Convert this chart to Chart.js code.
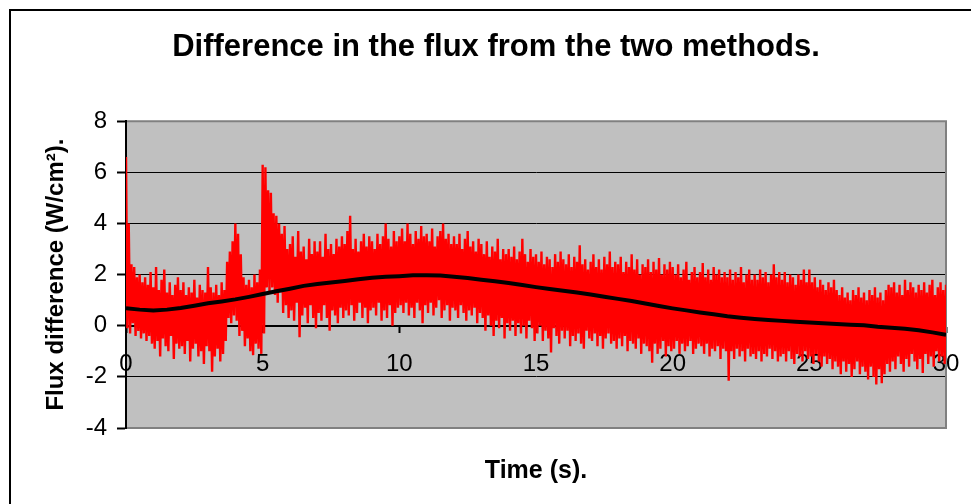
<!DOCTYPE html>
<html>
<head>
<meta charset="utf-8">
<script src="https://cdn.jsdelivr.net/npm/chart.js@4.4.1/dist/chart.umd.min.js"></script>
<style>
  html, body { margin: 0; padding: 0; background: #fff; }
  #wrap { width: 971px; height: 504px; }
</style>
</head>
<body>
<div id="wrap"><canvas id="fluxChart" width="971" height="504"></canvas></div>
<script>
// Flux difference, one value every 0.05 s (20 per second)
const flux = [
  6.6, -0.1, 4.0, -0.3, 2.4, 0.1, 2.3, -0.4, 1.9, -0.2, 2.0, -0.5, 1.7, -0.3, 1.9, -0.6, 1.6, -0.4, 2.1, -0.7,
  1.5, -0.9, 2.3, -0.6, 1.4, -1.2, 1.8, -0.5, 2.2, -0.8, 1.3, -1.0, 1.7, -0.4, 1.2, -1.3, 1.6, -0.7, 1.9, -0.9,
  1.4, -0.8, 1.7, -1.1, 1.2, -0.6, 1.5, -1.4, 1.3, -0.9, 1.8, -0.7, 1.1, -1.2, 1.6, -1.0, 1.4, -1.5, 1.3, -0.8,
  2.3, -1.0, 1.5, -1.8, 1.3, -1.2, 1.6, -0.9, 1.2, -1.4, 1.7, -1.1, 1.4, -0.6, 2.5, 0.3, 2.9, 0.1, 3.3, 0.4,
  4.0, 0.2, 3.6, -0.4, 2.8, -0.2, 1.9, -0.8, 1.6, -0.5, 1.8, -1.0, 1.5, -1.15, 2.0, -0.7, 1.7, -0.9, 2.2, -1.1,
  6.3, -0.3, 6.2, 1.5, 5.3, 1.3, 5.2, 1.5, 4.4, 1.2, 4.3, 0.9, 4.0, 1.3, 3.6, 0.5, 3.9, 0.8, 3.0, 0.3,
  3.2, 0.6, 3.5, 0.2, 2.7, 0.9, 3.7, -0.45, 2.9, 0.4, 3.1, 0.7, 2.6, 0.1, 3.4, 0.8, 2.8, 0.3, 3.3, -0.1,
  2.9, 0.5, 3.3, 0.2, 2.7, 0.8, 3.6, 0.3, 3.0, -0.2, 3.2, 0.6, 2.8, 0.4, 3.4, 0.1, 3.1, 0.7, 3.5, 0.3,
  3.2, 0.6, 3.7, 0.4, 4.3, 0.8, 3.0, 0.2, 3.4, 0.5, 2.9, 0.9, 3.3, 0.3, 3.6, 0.7, 3.1, 0.1, 3.5, 0.6,
  3.3, 0.7, 3.0, 0.4, 3.6, 0.9, 3.2, 0.2, 3.5, 0.6, 4.0, 0.3, 3.4, 0.8, 3.1, 0.0, 3.7, 0.5, 3.3, 0.7,
  3.5, 0.8, 3.8, 0.5, 3.3, 0.9, 4.0, 0.4, 3.6, 0.7, 3.2, 0.3, 3.7, 0.9, 3.4, 0.6, 3.9, 0.1, 3.5, 0.8,
  3.6, 0.5, 3.3, 0.9, 3.8, 0.4, 3.1, 0.7, 3.5, 1.0, 3.7, 0.3, 4.0, 0.6, 3.4, 0.8, 3.6, 0.2, 3.2, 0.7,
  3.5, 0.6, 3.2, 0.3, 3.6, 0.8, 3.0, 0.5, 3.4, 0.2, 3.7, 0.6, 3.1, 0.4, 3.3, 0.7, 2.9, 0.1, 3.4, 0.5,
  3.2, 0.3, 2.8, -0.2, 3.3, 0.4, 2.7, 0.0, 3.1, -0.4, 2.9, 0.2, 3.4, -0.1, 2.6, 0.3, 3.0, -0.5, 2.8, 0.1,
  3.0, -0.2, 2.7, 0.2, 3.1, -0.4, 2.6, 0.1, 2.9, -0.3, 3.4, 0.0, 2.8, -0.5, 2.5, 0.2, 3.0, -0.1, 2.7, -0.6,
  2.8, -0.3, 2.5, 0.0, 2.9, -0.6, 2.4, -0.2, 2.7, -0.5, 2.6, -1.05, 2.3, -0.1, 2.8, -0.4, 2.5, -0.7, 2.9, -0.2,
  2.6, -0.5, 2.4, -0.2, 2.8, -0.8, 2.3, -0.4, 2.7, -0.6, 2.5, -0.3, 3.15, -0.7, 2.4, -0.9, 2.6, -0.2, 2.2, -0.5,
  2.5, -0.6, 2.8, -0.3, 2.3, -0.8, 2.6, -0.4, 2.2, -0.9, 2.7, -0.5, 2.4, -0.3, 2.9, -0.7, 2.3, -0.6, 2.5, -0.9,
  2.4, -0.5, 2.7, -0.8, 2.1, -0.4, 2.5, -1.0, 2.3, -0.6, 2.8, -0.7, 2.2, -0.9, 2.6, -0.5, 2.0, -1.1, 2.4, -0.7,
  2.3, -0.8, 2.6, -1.0, 2.1, -1.45, 2.5, -0.7, 2.2, -1.1, 2.65, -0.9, 2.0, -0.6, 2.4, -1.2, 2.2, -0.8, 2.5, -1.0,
  2.3, -0.9, 2.0, -0.6, 2.4, -1.1, 1.9, -0.7, 2.2, -1.0, 2.5, -0.8, 1.8, -0.6, 2.1, -1.1, 2.3, -0.9, 1.9, -0.7,
  2.1, -0.8, 2.45, -1.1, 1.9, -0.7, 2.2, -1.2, 1.8, -0.9, 2.3, -1.0, 2.0, -0.8, 2.2, -1.3, 1.9, -0.9, 2.1, -1.0,
  1.9, -2.15, 2.2, -1.0, 1.8, -1.3, 2.1, -0.9, 1.9, -1.2, 2.3, -1.0, 1.7, -1.4, 2.0, -0.9, 2.2, -1.2, 1.8, -1.1,
  2.0, -1.3, 1.8, -1.0, 2.2, -1.4, 1.9, -1.1, 2.1, -1.2, 1.7, -0.9, 2.0, -1.3, 2.4, -1.0, 1.9, -1.4, 2.1, -1.2,
  1.8, -1.1, 2.1, -1.4, 1.7, -1.0, 2.0, -1.3, 1.9, -1.5, 1.6, -1.1, 2.0, -1.2, 1.8, -1.4, 2.2, -1.0, 1.7, -1.3,
  2.2, -1.2, 1.7, -1.5, 1.9, -1.1, 1.5, -1.4, 1.8, -1.6, 1.6, -1.2, 1.4, -1.5, 1.7, -1.3, 1.5, -1.7, 1.8, -1.4,
  1.4, -1.6, 1.2, -1.9, 1.5, -1.4, 1.1, -1.8, 1.3, -1.5, 1.0, -2.0, 1.4, -1.7, 1.2, -1.4, 1.5, -1.9, 1.1, -1.6,
  1.3, -1.8, 1.0, -2.1, 1.4, -1.6, 1.2, -2.0, 1.5, -2.3, 1.1, -1.7, 1.3, -2.25, 1.0, -1.9, 1.4, -1.5, 1.6, -1.8,
  1.5, -1.4, 1.7, -1.7, 1.3, -1.2, 1.6, -1.5, 1.2, -1.8, 1.8, -1.3, 1.4, -1.6, 1.7, -1.1, 1.5, -1.4, 1.3, -1.7,
  1.6, -1.3, 1.4, -1.85, 1.7, -1.1, 1.3, -1.5, 1.6, -1.2, 1.8, -1.6, 1.2, -1.0, 1.5, -1.4, 1.7, -1.2, 1.4, -1.5,
  1.6
];
const fluxStep = 0.05;

// smooth black line, one value every 0.5 s
const trend = [
  0.68, 0.63, 0.60, 0.63, 0.69, 0.78, 0.88, 0.95, 1.03, 1.13,
  1.24, 1.35, 1.45, 1.56, 1.63, 1.69, 1.75, 1.82, 1.88, 1.92,
  1.94, 1.97, 1.97, 1.96, 1.92, 1.87, 1.80, 1.74, 1.67, 1.59,
  1.51, 1.44, 1.37, 1.30, 1.22, 1.13, 1.05, 0.97, 0.87, 0.77,
  0.68, 0.60, 0.52, 0.45, 0.37, 0.31, 0.26, 0.22, 0.19, 0.16,
  0.13, 0.10, 0.07, 0.04, 0.02, -0.04, -0.08, -0.12, -0.18, -0.26,
  -0.35
];
const trendStep = 0.5;

const xTicks = [0, 5, 10, 15, 20, 25, 30];
const yTicks = [-4, -2, 0, 2, 4, 6, 8];

const FONT = '"Liberation Sans", Arial, sans-serif';

// gris del area de trazado, borde gris y marco exterior
const plotFrame = {
  id: 'plotFrame',
  beforeDraw(chart) {
    const { ctx, chartArea: a } = chart;
    ctx.save();
    ctx.fillStyle = '#c0c0c0';
    ctx.fillRect(a.left, a.top, a.right - a.left, a.bottom - a.top);
    ctx.strokeStyle = '#000';
    ctx.lineWidth = 2;
    ctx.beginPath();
    ctx.moveTo(10, 504);
    ctx.lineTo(10, 10);
    ctx.lineTo(971, 10);
    ctx.stroke();
    ctx.restore();
  },
  beforeDatasetsDraw(chart) {
    const { ctx, chartArea: a } = chart;
    ctx.save();
    ctx.strokeStyle = '#808080';
    ctx.lineWidth = 2;
    ctx.beginPath();
    ctx.moveTo(a.left + 1, a.top);
    ctx.lineTo(a.right, a.top);
    ctx.lineTo(a.right, a.bottom);
    ctx.lineTo(a.left + 1, a.bottom);
    ctx.stroke();
    ctx.restore();
  }
};

const ctx = document.getElementById('fluxChart').getContext('2d');
new Chart(ctx, {
  type: 'line',
  data: {
    datasets: [{
      label: 'Trend',
      data: trend.map((v, i) => ({ x: i * trendStep, y: v })),
      borderColor: '#000',
      borderWidth: 4,
      pointRadius: 0,
      tension: 0
    }, {
      label: 'Flux difference',
      data: flux.map((v, i) => ({ x: i * fluxStep, y: v })),
      borderColor: '#ff0000',
      borderWidth: 2.4,
      pointRadius: 0,
      tension: 0
    }]
  },
  options: {
    responsive: false,
    animation: false,
    devicePixelRatio: 1,
    events: [],
    layout: { padding: { left: 21, right: 0, top: 0, bottom: 0 } },
    plugins: {
      legend: { display: false },
      tooltip: { enabled: false },
      title: {
        display: true,
        text: 'Difference in the flux from the two methods.',
        color: '#000',
        font: { family: FONT, size: 31, weight: 'bold' },
        padding: { top: 29, bottom: 55 }
      },
      subtitle: {
        display: true,
        position: 'bottom',
        fullSize: false,
        text: 'Time (s).',
        color: '#000',
        font: { family: FONT, size: 25, weight: 'bold' },
        padding: { top: 28, bottom: 18 }
      }
    },
    scales: {
      x: {
        type: 'linear',
        min: 0,
        max: 30,
        position: { y: 0 },
        afterBuildTicks: s => { s.ticks = xTicks.map(v => ({ value: v })); },
        afterFit: s => { s.paddingLeft = 0; s.paddingRight = 0; },
        grid: { drawOnChartArea: false, tickColor: '#000', tickWidth: 2, tickLength: 6 },
        border: { color: '#000', width: 2 },
        ticks: { color: '#000', font: { family: FONT, size: 24 }, padding: 18, maxRotation: 0, autoSkip: false }
      },
      y: {
        min: -4,
        max: 8,
        afterFit: s => { s.width = 105; },
        afterBuildTicks: s => { s.ticks = yTicks.map(v => ({ value: v })); },
        grid: {
          color: c => (c.tick && (c.tick.value === 8 || c.tick.value === -4)) ? 'rgba(0,0,0,0)' : '#000',
          lineWidth: 1,
          tickColor: '#000',
          tickWidth: 2,
          tickLength: 9
        },
        border: { color: '#000', width: 2 },
        ticks: { color: '#000', font: { family: FONT, size: 24 }, padding: 10 },
        title: {
          display: true,
          text: 'Flux difference (W/cm²).',
          color: '#000',
          font: { family: FONT, size: 24, weight: 'bold' },
          padding: { top: 21, bottom: 0 }
        }
      },
      yPad: {
        position: 'right',
        display: true,
        grid: { display: false },
        border: { display: false },
        ticks: { display: false },
        afterFit: s => { s.width = 25; }
      }
    }
  },
  plugins: [plotFrame]
});
</script>
</body>
</html>
